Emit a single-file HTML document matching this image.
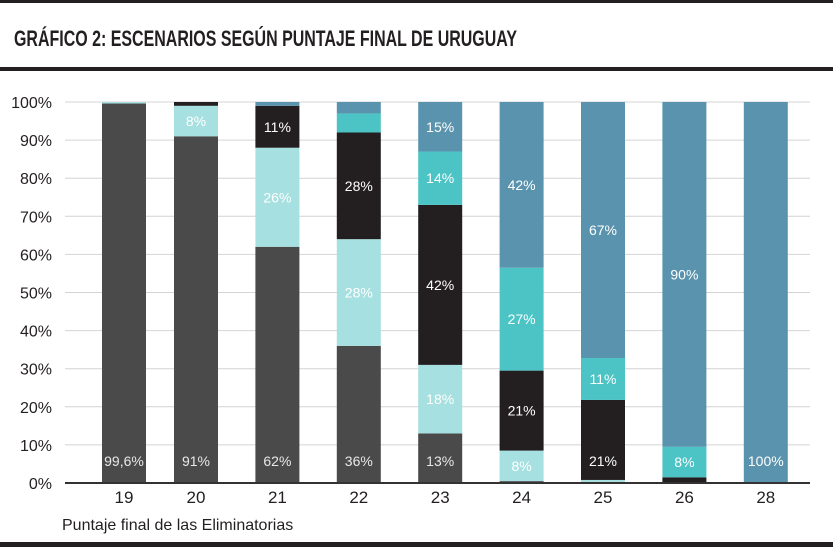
<!DOCTYPE html>
<html><head><meta charset="utf-8"><style>
body{margin:0;background:#fff;}
svg{display:block;font-family:"Liberation Sans Narrow","Liberation Sans",sans-serif;}
</style></head><body>
<svg id="chart" width="833" height="547" viewBox="0 0 833 547" xmlns="http://www.w3.org/2000/svg">
<rect x="0" y="0" width="833" height="3" fill="#231f20"/>
<text x="14" y="46" font-size="22" font-weight="bold" fill="#231f20" textLength="503" lengthAdjust="spacingAndGlyphs">GRÁFICO 2: ESCENARIOS SEGÚN PUNTAJE FINAL DE URUGUAY</text>
<rect x="0" y="67" width="833" height="4" fill="#231f20"/>
<rect x="0" y="542" width="833" height="5" fill="#231f20"/>
<g id="grid"></g><g id="bars"></g><g id="axes"></g>
<text x="62" y="530" font-size="16" fill="#231f20">Puntaje final de las Eliminatorias</text>
</svg>
<script>
const categories = ["19","20","21","22","23","24","25","26","28"];
const grayVals  = [99.6, 91, 62, 36, 13, 0.5, 0.3, 0, 0];
const cyanVals  = [0.4, 8, 26, 28, 18, 8, 0.5, 0, 0];
const blackVals = [0, 1, 11, 28, 42, 21, 21, 1.5, 0];
const tealVals  = [0, 0, 0, 5, 14, 27, 11, 8, 0];
const blueVals  = [0, 0, 1, 3, 13, 43.5, 67.2, 90.5, 100];
const yTicks = [0,10,20,30,40,50,60,70,80,90,100];
const series = [
  {name:"gray", vals:grayVals, color:"#4b4a4b", text:"#e8e8e8"},
  {name:"light-cyan", vals:cyanVals, color:"#a6e0e0", text:"#ffffff"},
  {name:"black", vals:blackVals, color:"#231f20", text:"#ffffff"},
  {name:"teal", vals:tealVals, color:"#4cc4c6", text:"#ffffff"},
  {name:"blue", vals:blueVals, color:"#5a93ad", text:"#ffffff"}
];
const printed = {"gray":[ "99,6%","91%","62%","36%","13%",null,null,null,null],
 "light-cyan":[null,"8%","26%","28%","18%","8%",null,null,null],
 "black":[null,null,"11%","28%","42%","21%","21%",null,null],
 "teal":[null,null,null,null,"14%","27%","11%","8%",null],
 "blue":[null,null,null,null,"15%","42%","67%","90%","100%"]};
const NS="http://www.w3.org/2000/svg";
const y0=483, y100=102;
function y(v){return y0-(y0-y100)*v/100;}
function xc(i){return i===0?124:196+(i-1)*81.4;}
const bw=44;
function mk(tag,attrs,parent){const e=document.createElementNS(NS,tag);for(const k in attrs)e.setAttribute(k,attrs[k]);parent.appendChild(e);return e;}
const grid=document.getElementById('grid'), bars=document.getElementById('bars'), axes=document.getElementById('axes');
yTicks.forEach(t=>{
  if(t>0){const l=mk('line',{x1:65,x2:810,y1:y(t),y2:y(t),stroke:'#d4d4d4','stroke-width':1},grid);
  
  }
  const tx=mk('text',{x:52,y:y(t)+6,'font-size':16,'text-anchor':'end',fill:'#231f20'},axes);
  tx.textContent=t+'%';
  
  
});
categories.forEach((c,i)=>{
  let cum=0;
  series.forEach(s=>{
    const v=s.vals[i];
    if(v>0){
      const r=mk('rect',{x:xc(i)-bw/2,y:y(cum+v),width:bw,height:y(cum)-y(cum+v),fill:s.color},bars);
      
      
      const lab=printed[s.name][i];
      if(lab){
        let ly = cum<2 ? 461 : (y(cum)+y(cum+v))/2;
        if(cum<2 && v<12) ly=(y(cum)+y(cum+v))/2;
        const t=mk('text',{x:xc(i),y:ly+5,'font-size':14,'text-anchor':'middle',fill:s.text},bars);
        t.textContent=lab;
        
        
      }
    }
    cum+=v;
  });
  const t=mk('text',{x:xc(i),y:503,'font-size':17,'text-anchor':'middle',fill:'#231f20'},axes);
  t.textContent=c;
  
  
});
const ax=mk('line',{x1:65,x2:810,y1:y0,y2:y0,stroke:'#333','stroke-width':2},axes);


</script>
</body></html>
